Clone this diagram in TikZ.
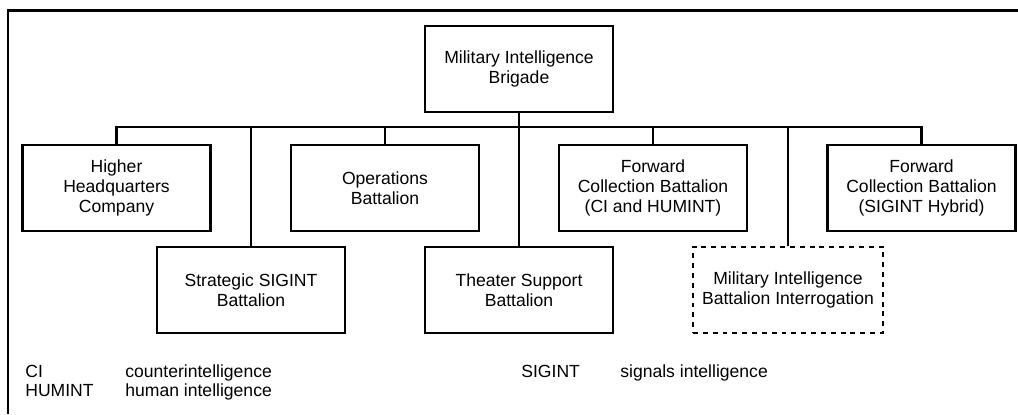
\documentclass[tikz,border=0pt]{standalone}
\usepackage{fontspec}
\setmainfont{Liberation Sans}
\begin{document}
\begin{tikzpicture}[x=0.02cm,y=-0.02cm,
	unit/.style={draw, line width=1.3pt, minimum width=3.76cm, minimum height=1.72cm,
		inner sep=0pt, align=center, font=\fontsize{10}{11.5}\selectfont},
	link/.style={line width=1.3pt},
	abbr/.style={anchor=base west, inner sep=0pt, font=\fontsize{10}{12}\selectfont}]
		\useasboundingbox (0,0) rectangle (1018,414);
		\draw[line width=1.7pt] (8,414) -- (8,10) -- (1018,10);
		% brigade and its units
		\node[unit] (brig) at (519,69) {Military Intelligence\\Brigade};
		\node[unit] (hq) at (116.5,188) {Higher\\Headquarters\\Company};
		\node[unit] (ops) at (385,188) {Operations\\Battalion};
		\node[unit] (fwdci) at (653,188) {Forward\\Collection Battalion\\(CI and HUMINT)};
		\node[unit] (fwdsig) at (921.5,188) {Forward\\Collection Battalion\\(SIGINT Hybrid)};
		\node[unit] (strat) at (251,290) {Strategic SIGINT\\Battalion};
		\node[unit] (theater) at (519,290) {Theater Support\\Battalion};
		\node[unit, minimum width=3.8cm, line width=1.6pt, dash pattern=on 2.8pt off 2.8pt] (interr) at (788,290)
		{Military Intelligence\\Battalion Interrogation};
		\coordinate (bus) at (0,127);
		\draw[link] (brig) -- (theater);
		\draw[link] (hq.north) |- (bus -| fwdsig.north) -- (fwdsig.north);
		\foreach \n in {strat,ops,fwdci,interr}
		\draw[link] (\n.north) -- (\n.north |- bus);
		% abbreviations
		\node[abbr] (ci) at (25,377) {CI};
		\node[abbr] at (125,377) {counterintelligence};
		\node[abbr] (humint) at (25,396) {HUMINT};
		\node[abbr] at (125,396) {human intelligence};
		\node[abbr] (sigint) at (521,377) {SIGINT};
		\node[abbr] at (620,377) {signals intelligence};
	\end{tikzpicture}
\end{document}
